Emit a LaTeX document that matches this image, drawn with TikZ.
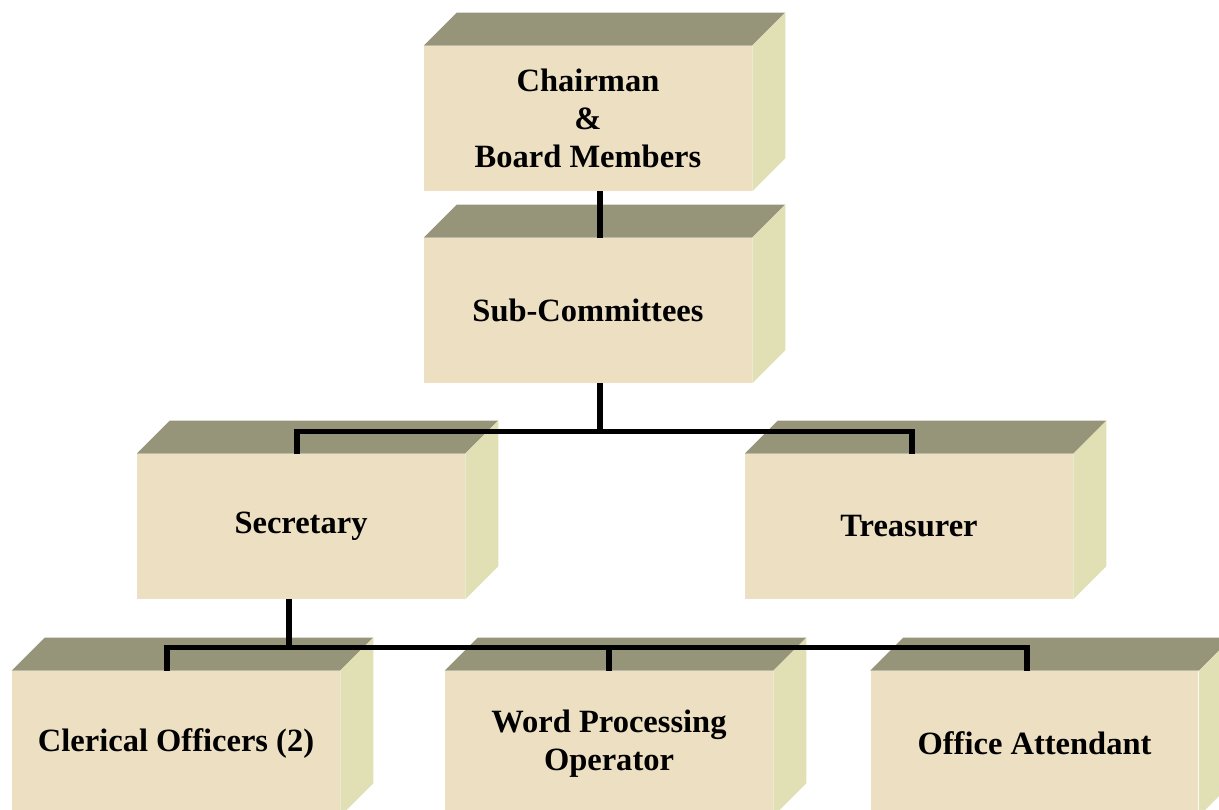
\documentclass[tikz,border=0pt]{standalone}
\usepackage{fontspec}
\setmainfont{Liberation Serif}
\usepackage{tikz}
\definecolor{frontbeige}{RGB}{237, 224, 194}
\definecolor{topolive}{RGB}{151, 149, 121}
\definecolor{sidecream}{RGB}{225, 223, 180}

\begin{document}
\begin{tikzpicture}[x=0.02cm, y=-0.02cm, font=\bfseries\fontsize{18.5}{21.5}\selectfont,
  block/.style={rectangle, fill=frontbeige, minimum width=6.56cm, minimum height=2.9cm, inner sep=0pt, align=center},
  link/.style={line width=3pt, black}]
\clip (0,0) rectangle (1219,810);

% Front faces of the boxes
\node[block] (chair) at (588,118.5) {Chairman\\\&\\Board Members};
\node[block] (sub) at (588,310.5) {Sub-Committees};
\node[block] (sec) at (301,526.5) {Secretary};
\node[block] (tre) at (909,526.5) {Treasurer};
\node[block] (clr) at (176,743.5) {Clerical Officers (2)};
\node[block] (wpo) at (609,743.5) {Word Processing\\Operator};
\node[block] (att) at (1034.5,743.5) {Office Attendant};

% Top and side faces
\foreach \n in {chair,sub,sec,tre,clr,wpo,att} {
  \fill[topolive] (\n.north west) -- ++(33,-33) -- ([shift={(33,-33)}]\n.north east) -- (\n.north east) -- cycle;
  \fill[sidecream] (\n.north east) -- ++(33,-33) -- ([shift={(33,-33)}]\n.south east) -- (\n.south east) -- cycle;
}

% Connectors
\draw[link] ([xshift=0.24cm]chair.south) -- ([xshift=0.24cm]sub.north);
\draw[link] ([xshift=0.24cm]sub.south) -- ++(0,48) coordinate (j1);
\draw[link] ([xshift=-0.08cm]sec.north) |- (j1) -| ([xshift=0.06cm]tre.north);
\draw[link] ([xshift=-0.24cm]sec.south) -- ++(0,48) coordinate (j2);
\draw[link] ([xshift=-0.18cm]clr.north) |- (j2) -| ([xshift=-0.15cm]att.north);
\draw[link] (wpo.north) -- (wpo.north |- j2);
\end{tikzpicture}
\end{document}
